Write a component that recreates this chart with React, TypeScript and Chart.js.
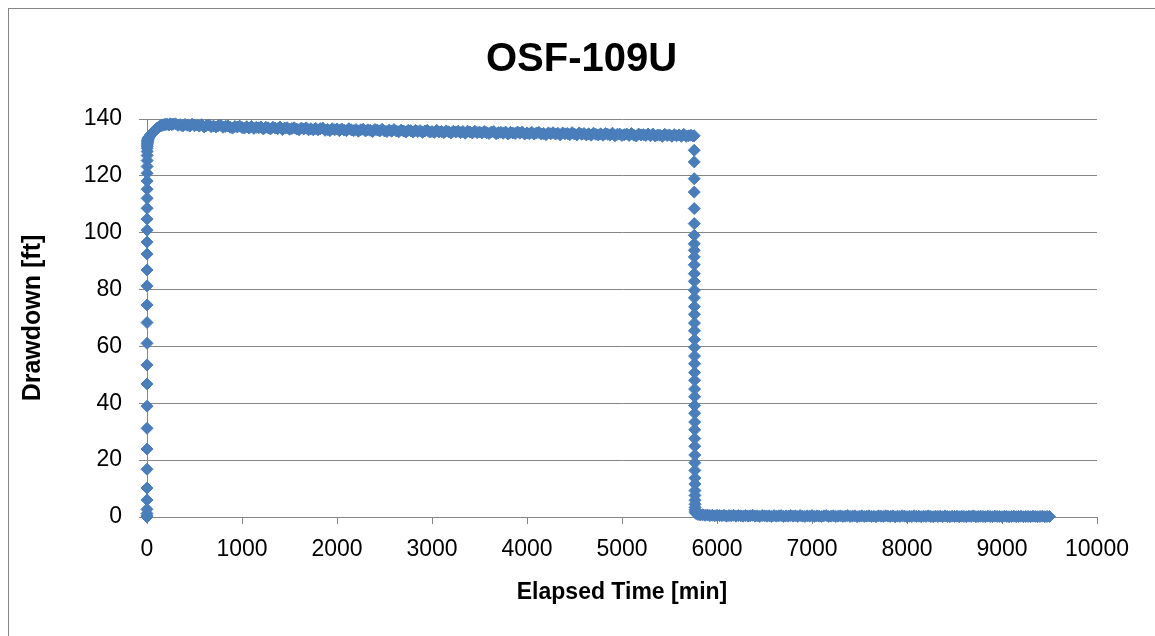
import React, { useEffect, useRef } from "react";
import { Chart, registerables } from "chart.js";

Chart.register(...registerables);

// ---- Data ----
const chartTitle = "OSF-109U";
const xAxisTitle = "Elapsed Time [min]";
const yAxisTitle = "Drawdown [ft]";

const xTicksMin = 0;
const xTicksMax = 10000;
const xTickStep = 1000;
const yTicksMin = 0;
const yTicksMax = 140;
const yTickStep = 20;

// Early pumping (column at t ~ 0, then bend to the peak)
const earlyTime = [
  0, 0.05, 0.1, 0.15, 0.2, 0.25, 0.3, 0.35, 0.4, 0.45, 0.5, 0.55, 0.6, 0.65, 0.7, 0.75, 0.8, 0.85, 0.9, 0.95,
  1.0, 1.1, 1.2, 1.3, 1.4, 1.5, 1.6, 1.8, 2.0, 2.2, 2.5, 3, 3.5, 4, 5, 6, 7, 8, 10, 12, 15,
  20, 25, 30, 35, 40, 45, 50, 55, 60, 70, 80, 90, 100, 110, 120, 130, 140, 150, 160, 170, 180, 190, 200, 215, 230, 245, 260, 275,
];
const earlyDrawdown = [
  0, 0.4, 1.2, 2.7, 6.0, 10.2, 16.8, 23.9, 31.2, 39.0, 46.8, 53.5, 61.1, 68.4, 74.6, 81.3, 86.9, 92.5, 96.7, 100.9,
  104.8, 108.6, 112.1, 115.3, 118.2, 120.9, 123.3, 125.4, 127.2, 128.6, 129.7, 130.4, 130.9, 131.3, 131.7, 132.0, 132.3, 132.5, 132.8, 133.1, 133.4,
  133.6, 133.8, 134.0, 134.3, 134.5, 134.7, 134.9, 135.1, 135.3, 135.6, 135.9, 136.3, 136.6, 136.8, 137.1, 137.3, 137.5, 137.7, 137.8, 137.9, 138.0, 138.1, 138.1, 138.2, 137.9, 138.3, 138.0, 138.2,
];

// Main pumping period (logger every 25 min)
const pumpTime = [
  300, 325, 350, 375, 400, 425, 450, 475, 500, 525,
  550, 575, 600, 625, 650, 675, 700, 725, 750, 775,
  800, 825, 850, 875, 900, 925, 950, 975, 1000, 1025,
  1050, 1075, 1100, 1125, 1150, 1175, 1200, 1225, 1250, 1275,
  1300, 1325, 1350, 1375, 1400, 1425, 1450, 1475, 1500, 1525,
  1550, 1575, 1600, 1625, 1650, 1675, 1700, 1725, 1750, 1775,
  1800, 1825, 1850, 1875, 1900, 1925, 1950, 1975, 2000, 2025,
  2050, 2075, 2100, 2125, 2150, 2175, 2200, 2225, 2250, 2275,
  2300, 2325, 2350, 2375, 2400, 2425, 2450, 2475, 2500, 2525,
  2550, 2575, 2600, 2625, 2650, 2675, 2700, 2725, 2750, 2775,
  2800, 2825, 2850, 2875, 2900, 2925, 2950, 2975, 3000, 3025,
  3050, 3075, 3100, 3125, 3150, 3175, 3200, 3225, 3250, 3275,
  3300, 3325, 3350, 3375, 3400, 3425, 3450, 3475, 3500, 3525,
  3550, 3575, 3600, 3625, 3650, 3675, 3700, 3725, 3750, 3775,
  3800, 3825, 3850, 3875, 3900, 3925, 3950, 3975, 4000, 4025,
  4050, 4075, 4100, 4125, 4150, 4175, 4200, 4225, 4250, 4275,
  4300, 4325, 4350, 4375, 4400, 4425, 4450, 4475, 4500, 4525,
  4550, 4575, 4600, 4625, 4650, 4675, 4700, 4725, 4750, 4775,
  4800, 4825, 4850, 4875, 4900, 4925, 4950, 4975, 5000, 5025,
  5050, 5075, 5100, 5125, 5150, 5175, 5200, 5225, 5250, 5275,
  5300, 5325, 5350, 5375, 5400, 5425, 5450, 5475, 5500, 5525,
  5550, 5575, 5600, 5625, 5650, 5675, 5700, 5725, 5750, 5760,
];
const pumpDrawdown = [
  138.3, 137.8, 138.0, 137.5, 138.1, 137.8, 137.5, 138.2, 137.6, 137.9,
  137.5, 138.0, 137.2, 137.7, 137.9, 137.3, 137.5, 137.2, 137.6, 137.8,
  137.1, 137.4, 137.6, 137.1, 136.8, 137.4, 137.2, 137.5, 137.0, 136.8,
  137.3, 136.8, 137.4, 136.7, 137.1, 136.9, 137.2, 136.5, 137.1, 136.9,
  136.5, 137.1, 136.8, 136.6, 137.2, 136.3, 136.8, 136.9, 136.4, 136.7,
  136.9, 136.5, 136.2, 136.8, 136.5, 136.9, 136.2, 136.6, 136.2, 136.7,
  136.2, 136.6, 136.8, 136.0, 136.3, 135.9, 136.6, 136.2, 136.5, 135.9,
  136.5, 136.1, 135.9, 136.6, 136.2, 135.9, 136.3, 135.7, 136.2, 136.4,
  135.8, 136.2, 136.0, 135.6, 136.3, 136.1, 135.8, 136.4, 135.8, 135.6,
  136.1, 135.7, 136.3, 135.8, 135.5, 136.1, 135.8, 135.4, 136.0, 135.9,
  135.4, 136.0, 135.6, 135.9, 135.3, 135.8, 136.0, 135.4, 135.6, 135.3,
  136.0, 135.4, 135.6, 135.2, 135.8, 135.5, 135.1, 135.7, 135.4, 135.7,
  135.2, 135.6, 135.0, 135.7, 135.4, 135.1, 135.7, 135.2, 135.4, 135.1,
  135.6, 135.2, 134.9, 135.4, 135.6, 134.8, 135.2, 135.3, 135.0, 135.4,
  134.7, 135.3, 135.1, 134.9, 135.4, 135.0, 135.4, 134.7, 135.1, 134.8,
  135.3, 134.7, 135.1, 135.3, 134.7, 134.9, 134.5, 135.1, 134.8, 135.2,
  134.7, 135.0, 134.4, 135.1, 134.8, 134.9, 134.5, 135.2, 134.7, 134.4,
  135.1, 134.6, 134.9, 134.4, 134.8, 134.3, 135.0, 134.6, 134.4, 134.8,
  134.3, 134.9, 134.6, 134.4, 135.0, 134.1, 134.6, 134.7, 134.2, 134.5,
  134.7, 134.2, 134.9, 134.3, 134.0, 134.7, 134.4, 134.5, 134.2, 134.7,
  134.1, 134.7, 134.0, 134.4, 134.3, 133.9, 134.6, 134.2, 134.4, 133.9,
  134.5, 134.1, 134.4, 133.9, 134.6, 133.9, 134.1, 134.3, 134.0, 134.1,
];

// Recovery drop right after pump shut-off
const dropTime = [
  5760.1, 5760.2, 5760.3, 5760.4, 5760.5, 5760.6, 5760.7, 5760.8, 5760.9, 5761.0,
  5761.2, 5761.4, 5761.6, 5761.8, 5762.0, 5762.2, 5762.4, 5762.6, 5762.8, 5763.0,
  5763.2, 5763.4, 5763.6, 5763.8, 5764.0, 5764.2, 5764.4, 5764.6, 5764.8, 5765.0,
  5765.3, 5765.6, 5765.9, 5766.2, 5766.5, 5766.8, 5767.1, 5767.4, 5767.7, 5768.0,
  5768.5, 5769.0, 5769.5, 5770.0, 5771.0, 5772.0,
];
const dropDrawdown = [
  129.0, 124.9, 119.0, 114.3, 108.5, 103.2, 99.1, 96.1, 93.8, 91.5,
  88.7, 85.6, 82.9, 79.8, 77.1, 74.0, 71.3, 68.2, 65.5, 62.4,
  59.7, 56.6, 53.9, 50.8, 48.1, 45.0, 42.3, 39.2, 36.5, 33.4,
  30.7, 27.6, 24.9, 21.8, 19.1, 16.4, 13.7, 11.6, 9.3, 7.6,
  5.9, 4.5, 3.4, 2.6, 2.0, 1.6,
];

// Residual drawdown during recovery (logger every 25 min)
const recoveryTime = [
  5780,
  5800, 5825, 5850, 5875, 5900, 5925, 5950, 5975, 6000, 6025,
  6050, 6075, 6100, 6125, 6150, 6175, 6200, 6225, 6250, 6275,
  6300, 6325, 6350, 6375, 6400, 6425, 6450, 6475, 6500, 6525,
  6550, 6575, 6600, 6625, 6650, 6675, 6700, 6725, 6750, 6775,
  6800, 6825, 6850, 6875, 6900, 6925, 6950, 6975, 7000, 7025,
  7050, 7075, 7100, 7125, 7150, 7175, 7200, 7225, 7250, 7275,
  7300, 7325, 7350, 7375, 7400, 7425, 7450, 7475, 7500, 7525,
  7550, 7575, 7600, 7625, 7650, 7675, 7700, 7725, 7750, 7775,
  7800, 7825, 7850, 7875, 7900, 7925, 7950, 7975, 8000, 8025,
  8050, 8075, 8100, 8125, 8150, 8175, 8200, 8225, 8250, 8275,
  8300, 8325, 8350, 8375, 8400, 8425, 8450, 8475, 8500, 8525,
  8550, 8575, 8600, 8625, 8650, 8675, 8700, 8725, 8750, 8775,
  8800, 8825, 8850, 8875, 8900, 8925, 8950, 8975, 9000, 9025,
  9050, 9075, 9100, 9125, 9150, 9175, 9200, 9225, 9250, 9275,
  9300, 9325, 9350, 9375, 9400, 9425, 9450, 9475, 9500,
];
const recoveryDrawdown = [
  1.2,
  0.9, 0.7, 0.8, 0.6, 0.7, 0.5, 0.6, 0.4, 0.6, 0.5,
  0.4, 0.6, 0.3, 0.5, 0.4, 0.6, 0.3, 0.5, 0.4, 0.3,
  0.5, 0.3, 0.4, 0.6, 0.3, 0.4, 0.2, 0.5, 0.4, 0.3,
  0.4, 0.2, 0.5, 0.3, 0.4, 0.5, 0.2, 0.4, 0.3, 0.5,
  0.3, 0.4, 0.2, 0.5, 0.3, 0.2, 0.4, 0.3, 0.5, 0.2,
  0.4, 0.3, 0.2, 0.4, 0.5, 0.2, 0.3, 0.4, 0.2, 0.3,
  0.4, 0.2, 0.3, 0.5, 0.2, 0.3, 0.4, 0.1, 0.3, 0.4,
  0.2, 0.3, 0.4, 0.2, 0.3, 0.1, 0.4, 0.3, 0.2, 0.4,
  0.3, 0.2, 0.4, 0.1, 0.3, 0.2, 0.4, 0.3, 0.1, 0.3,
  0.2, 0.4, 0.2, 0.3, 0.1, 0.3, 0.2, 0.4, 0.2, 0.1,
  0.3, 0.2, 0.3, 0.1, 0.4, 0.2, 0.1, 0.3, 0.2, 0.3,
  0.1, 0.3, 0.2, 0.1, 0.3, 0.2, 0.4, 0.1, 0.2, 0.3,
  0.2, 0.1, 0.3, 0.2, 0.1, 0.3, 0.2, 0.2, 0.1, 0.3,
  0.2, 0.1, 0.2, 0.3, 0.1, 0.2, 0.3, 0.1, 0.2, 0.2,
  0.1, 0.3, 0.2, 0.1, 0.2, 0.3, 0.1, 0.2, 0.2,
];

const FONT = "'Liberation Sans', Arial, sans-serif";
const MARKER = "#4A7EBB";
const GRID = "#868686";

function toPoints(t: number[], d: number[]) {
  return t.map((x, i) => ({ x, y: d[i] }));
}

export default function App() {
  const canvasRef = useRef<HTMLCanvasElement | null>(null);

  useEffect(() => {
    if (!canvasRef.current) return;
    const data = [
      ...toPoints(earlyTime, earlyDrawdown),
      ...toPoints(pumpTime, pumpDrawdown),
      ...toPoints(dropTime, dropDrawdown),
      ...toPoints(recoveryTime, recoveryDrawdown),
    ];
    const chart = new Chart(canvasRef.current, {
      type: "scatter",
      data: {
        datasets: [
          {
            label: "Drawdown",
            data,
            pointStyle: "rectRot",
            pointRadius: 6,
            pointBorderWidth: 1,
            backgroundColor: MARKER,
            borderColor: MARKER,
            showLine: false,
            clip: false,
          } as any,
        ],
      },
      options: {
        animation: false,
        responsive: false,
        layout: { padding: 0 },
        plugins: {
          legend: { display: false },
          tooltip: { enabled: false },
          title: {
            display: true,
            text: chartTitle,
            color: "#000",
            font: { family: FONT, size: 40, weight: "bold" },
            padding: { top: 28, bottom: 35 },
          },
        },
        scales: {
          x: {
            type: "linear",
            min: xTicksMin,
            max: xTicksMax,
            ticks: {
              stepSize: xTickStep,
              color: "#000",
              font: { family: FONT, size: 23 },
              padding: 12,
              maxRotation: 0,
              autoSkip: false,
              callback: (v: any) => String(v),
            },
            grid: { drawOnChartArea: false, drawTicks: true, tickLength: 7, color: GRID, lineWidth: 1 },
            border: { display: true, color: GRID, width: 1 },
            title: {
              display: true,
              text: xAxisTitle,
              color: "#000",
              font: { family: FONT, size: 23, weight: "bold" },
              padding: { top: 0, bottom: 30 },
            },
            afterFit: (s: any) => {
              s.height = 119;
              s.paddingRight = 58;
            },
          },
          y: {
            type: "linear",
            min: yTicksMin,
            max: yTicksMax,
            ticks: {
              stepSize: yTickStep,
              color: "#000",
              font: { family: FONT, size: 23 },
              padding: 17,
              callback: (v: any) => String(v),
            },
            grid: { drawTicks: true, tickLength: 8, color: GRID, lineWidth: 1 },
            border: { display: true, color: GRID, width: 1 },
            title: {
              display: true,
              text: yAxisTitle,
              color: "#000",
              font: { family: FONT, size: 25, weight: "bold" },
              padding: { top: 10, bottom: 0 },
            },
            afterFit: (s: any) => {
              s.width = 139;
            },
          },
        },
      },
    });
    return () => chart.destroy();
  }, []);

  return (
    <>
      <div
        style={{
          position: "fixed",
          left: 8,
          top: 8,
          width: 1147,
          height: 628,
          boxSizing: "border-box",
          borderLeft: "1px solid #868686",
          borderTop: "1px solid #868686",
          background: "#fff",
        }}
      />
      <canvas
        ref={canvasRef}
        width={1147}
        height={628}
        style={{ position: "fixed", left: 8, top: 8, width: 1147, height: 628 }}
      />
    </>
  );
}
